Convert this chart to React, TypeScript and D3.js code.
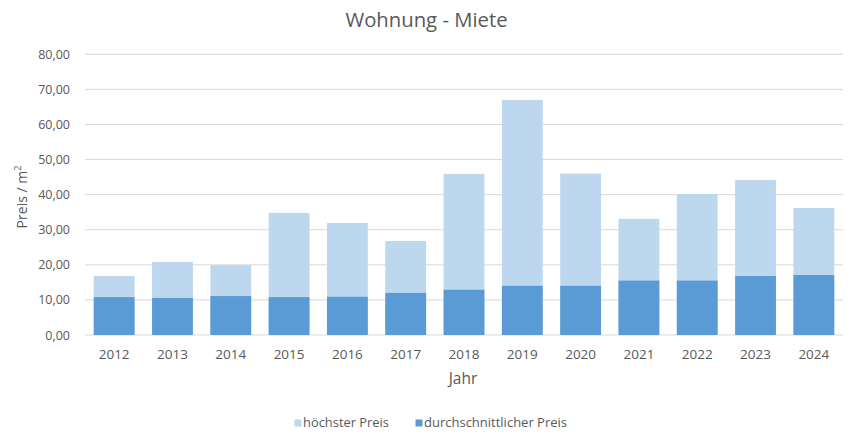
import React from "react";
import * as d3 from "d3";

const years = ["2012","2013","2014","2015","2016","2017","2018","2019","2020","2021","2022","2023","2024"];
const highest = [16.8, 20.8, 19.9, 34.8, 31.9, 26.8, 45.9, 67.0, 46.0, 33.1, 40.2, 44.2, 36.2];
const average = [10.8, 10.55, 11.1, 10.8, 10.9, 12.0, 12.9, 14.0, 14.0, 15.5, 15.5, 16.8, 17.1];
const yTicks = [0, 10, 20, 30, 40, 50, 60, 70, 80];
const seriesNames = ["höchster Preis", "durchschnittlicher Preis"];

const W = 854, H = 441;
const left = 85, right = 843, top = 54.3, bottom = 335;
const LIGHT = "#BDD7EE", DARK = "#5B9BD5", TEXT = "#595959", GRID = "#D9D9D9";
const FONT = "'Open Sans', sans-serif";

export default function App() {
  const x = d3.scaleBand<string>().domain(years).range([left, right]).paddingInner(0.3).paddingOuter(0.15);
  const y = d3.scaleLinear().domain([0, 80]).range([bottom, top]);
  const fmt = (v: number) => v.toFixed(2).replace(".", ",");
  return (
    <svg width={W} height={H} style={{ position: "absolute", left: 0, top: 0, background: "#fff" }}>
      <rect x={0} y={0} width={W} height={H} fill="#fff" />
      <text x={426.5} y={27} textAnchor="middle" fontFamily={FONT} fontSize={20.3} fill={TEXT}>Wohnung - Miete</text>
      {yTicks.map(t => (
        <g key={t}>
          <line x1={left} x2={right} y1={y(t)} y2={y(t)} stroke={GRID} strokeWidth={1} />
          <text x={70} y={y(t) + 4.5} textAnchor="end" fontFamily={FONT} fontSize={12.5} fill={TEXT}>{fmt(t)}</text>
        </g>
      ))}
      {years.map((yr, i) => (
        <g key={yr}>
          <rect x={x(yr)} y={y(highest[i])} width={x.bandwidth()} height={bottom - y(highest[i])} fill={LIGHT} />
          <rect x={x(yr)} y={y(average[i])} width={x.bandwidth()} height={bottom - y(average[i])} fill={DARK} />
          <text x={(x(yr) as number) + x.bandwidth() / 2} y={359} textAnchor="middle" fontFamily={FONT} fontSize={13.5} fill={TEXT}>{yr}</text>
        </g>
      ))}
      <text x={463} y={384} textAnchor="middle" fontFamily={FONT} fontSize={15.5} fill={TEXT}>Jahr</text>
      <text transform={`translate(27,${197}) rotate(-90)`} textAnchor="middle" fontFamily={FONT} fontSize={14} fill={TEXT}>
        Preis / m<tspan dy={-6} fontSize={9}>2</tspan>
      </text>
      <rect x={294.5} y={419.5} width={7} height={7} fill={LIGHT} />
      <text x={303} y={427} fontFamily={FONT} fontSize={13.5} textLength={86} lengthAdjust="spacingAndGlyphs" fill={TEXT}>{seriesNames[0]}</text>
      <rect x={415.5} y={419.5} width={7} height={7} fill={DARK} />
      <text x={424} y={427} fontFamily={FONT} fontSize={13.5} textLength={143} lengthAdjust="spacingAndGlyphs" fill={TEXT}>{seriesNames[1]}</text>
    </svg>
  );
}
